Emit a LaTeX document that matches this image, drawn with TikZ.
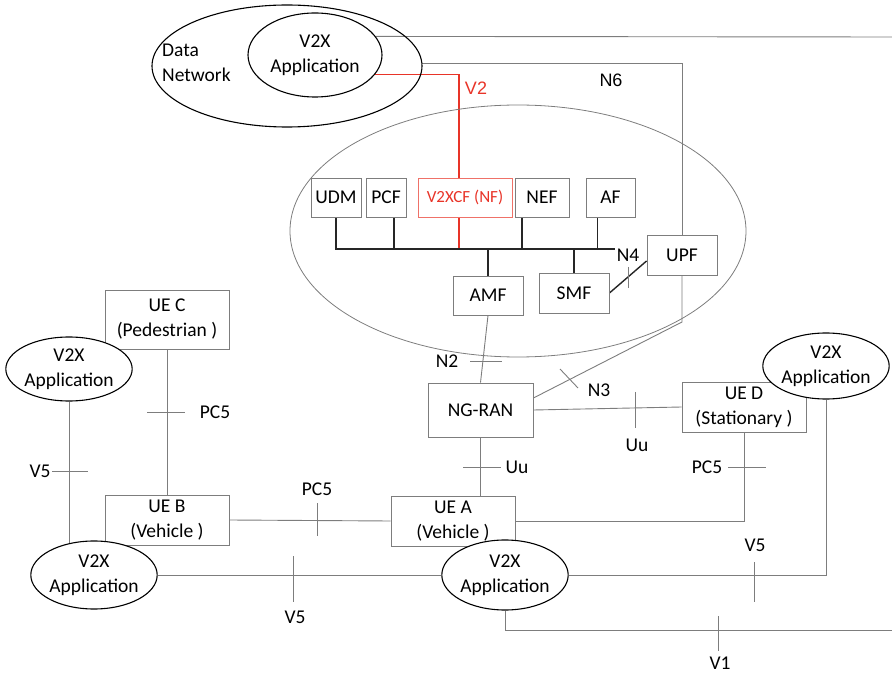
\documentclass[tikz,border=0pt]{standalone}
\usepackage{fontspec}
\setmainfont{Carlito}
\newfontfamily\arialfont{Liberation Sans}
\usepackage{tikz}
\usetikzlibrary{shapes, arrows}
\usetikzlibrary{positioning, backgrounds}
\definecolor{linegray}{RGB}{125,125,125}
\definecolor{nfred}{RGB}{232,52,40}
\tikzstyle{box} = [rectangle, draw = linegray, line width = 0.9, inner sep = 0,
  align = center, text centered]
\tikzstyle{app} = [
  ellipse, draw = black, fill = white, line width = 1.1,
  inner sep = 0, align = center
]
\tikzstyle{link} = [draw = linegray, line width = 0.9]
\tikzstyle{bus} = [draw = black!85, line width = 1.4]
\tikzstyle{ifmark} = [draw = linegray, line width = 0.9]
\tikzstyle{lbl} = [inner sep = 0]

\begin{document}
\begin{tikzpicture}[x = 1pt, y = -1pt,
    every node/.style = {font = \fontsize{19.5}{25}\selectfont}]
    \useasboundingbox (0, 0) rectangle (892, 676);

    \node [ellipse, draw = linegray, line width = 0.8, minimum width = 456,
      minimum height = 252] (core) at (518, 231) {};
    \node [ellipse, draw = black, line width = 1.1, minimum width = 270,
      minimum height = 122] (dn) at (287, 66) {};
    \node [lbl, anchor = west, align = left] (dn-text) at (162, 63) {Data\\Network};

    \node [box, minimum width = 50, minimum height = 39] (udm) at (336, 197.5) {UDM};
    \node [box, minimum width = 40, minimum height = 39] (pcf) at (386, 197.5) {PCF};
    \node [box, draw = nfred!70, text = nfred, minimum width = 94, minimum height = 39,
      font = \fontsize{17}{20}\selectfont] (v2xcf) at (465, 197.5) {V2XCF (NF)};
    \node [box, minimum width = 54, minimum height = 39] (nef) at (542, 197.5) {NEF};
    \node [box, minimum width = 49, minimum height = 39] (af) at (610.5, 197.5) {AF};
    \node [box, minimum width = 70, minimum height = 39] (amf) at (488, 295.5) {AMF};
    \node [box, minimum width = 70, minimum height = 40] (smf) at (574, 293) {SMF};
    \node [box, minimum width = 70, minimum height = 40] (upf) at (682, 255) {UPF};
    \node [box, minimum width = 105, minimum height = 54] (ng-ran) at (480.5, 410) {NG-RAN};

    \node [box, minimum width = 124, minimum height = 59] (ue-c) at (167, 319.5) {UE C\\(Pedestrian )};
    \node [box, minimum width = 124, minimum height = 50] (ue-b) at (167, 520) {UE B\\(Vehicle )};
    \node [box, minimum width = 124, minimum height = 50] (ue-a) at (453, 521) {UE A\\(Vehicle )};
    \node [box, minimum width = 124, minimum height = 50] (ue-d) at (744, 407) {UE D\\(Stationary )};

    \node [app, minimum width = 134, minimum height = 84] (app-dn) at (315, 55) {V2X\\Application};
    \node [app, minimum width = 122, minimum height = 64] (app-c) at (69, 369) {V2X\\Application};
    \node [app, minimum width = 120, minimum height = 68] (app-b) at (94, 575) {V2X\\Application};
    \node [app, minimum width = 120, minimum height = 70] (app-a) at (505, 575) {V2X\\Application};
    \node [app, minimum width = 122, minimum height = 66] (app-d) at (826, 366) {V2X\\Application};

    \coordinate (edge-top) at (892, 37);
    \coordinate (bus-end) at (615, 249);
    \coordinate (n3-bend) at (682, 322);
    \coordinate (v1-end) at (892, 630);

    \node [lbl, text = nfred, font = \arialfont\fontsize{18}{22}\selectfont] (lbl-v2) at (476, 88) {V2};
    \node [lbl, font = \arialfont\fontsize{18}{22}\selectfont] (lbl-n6) at (611, 80) {N6};
    \node [lbl] (lbl-n4) at (628, 255) {N4};
    \node [lbl] (lbl-n2) at (447, 361) {N2};
    \node [lbl] (lbl-n3) at (599, 390) {N3};
    \node [lbl] (lbl-uu-1) at (637, 445) {Uu};
    \node [lbl] (lbl-uu-2) at (517, 467) {Uu};
    \node [lbl] (lbl-pc5-1) at (215, 412) {PC5};
    \node [lbl] (lbl-pc5-2) at (317, 489) {PC5};
    \node [lbl] (lbl-pc5-3) at (707, 467) {PC5};
    \node [lbl] (lbl-v5-1) at (40, 471) {V5};
    \node [lbl] (lbl-v5-2) at (295, 617) {V5};
    \node [lbl] (lbl-v5-3) at (755, 545) {V5};
    \node [lbl] (lbl-v1) at (720, 663) {V1};

    \begin{pgfonlayer}{background}
    \draw [link] (app-dn.17) -- (edge-top);
    \draw [link] (dn.1) -| (upf.north);
    \draw [nfred, line width = 1.2] (app-dn.-18) -| ([xshift = -6]v2xcf.north);
    \draw [nfred, line width = 1.2] ([xshift = -6]v2xcf.south) -- ([xshift = -6]v2xcf.south |- bus-end);

    \draw [bus] (udm.south) |- (bus-end);
    \draw [bus] ([xshift = 8]pcf.south) -- ([xshift = 8]pcf.south |- bus-end);
    \draw [bus] ([xshift = -20]nef.south) -- ([xshift = -20]nef.south |- bus-end);
    \draw [bus] ([xshift = -13]af.south) -- ([xshift = -13]af.south |- bus-end);
    \draw [bus] (amf.north) -- (amf.north |- bus-end);
    \draw [bus] (smf.north) -- (smf.north |- bus-end);
    \draw [bus] (smf.east) -- ([yshift = -6]upf.west);

    \draw [link] (upf.south) -- (n3-bend) -- ([yshift = 12]ng-ran.east);
    \draw [link] (amf.south) -- (ng-ran.north);
    \draw [link] (ng-ran.east) -- (ue-d.west);
    \draw [link] (ng-ran.south) -- (ng-ran.south |- ue-a.north);
    \draw [link] (ue-a.east) -| (ue-d.south);
    \draw [link] (ue-b.east) -- (ue-a.west);
    \draw [link] (ue-c.south) -- (ue-b.north);
    \draw [link] (app-c.south) -- (app-c.south |- app-b.center);
    \draw [link] (app-b.east) -- (app-a.west);
    \draw [link] (app-a.east) -| (app-d.south);
    \draw [link] (app-a.south) |- (v1-end);
    \end{pgfonlayer}

    \draw [ifmark] (628, 267) -- (628, 288);
    \draw [ifmark] (470, 361) -- (502, 361);
    \draw [ifmark] (560, 369) -- (578, 388);
    \draw [ifmark] (635, 392) -- (635, 428);
    \draw [ifmark] (463, 467) -- (501, 467);
    \draw [ifmark] (728, 467) -- (766, 467);
    \draw [ifmark] (317, 503) -- (317, 536);
    \draw [ifmark] (147, 412) -- (185, 412);
    \draw [ifmark] (52, 471) -- (88, 471);
    \draw [ifmark] (293, 556) -- (293, 602);
    \draw [ifmark] (754, 562) -- (754, 602);
    \draw [ifmark] (718, 616) -- (718, 651);
  \end{tikzpicture}
\end{document}
